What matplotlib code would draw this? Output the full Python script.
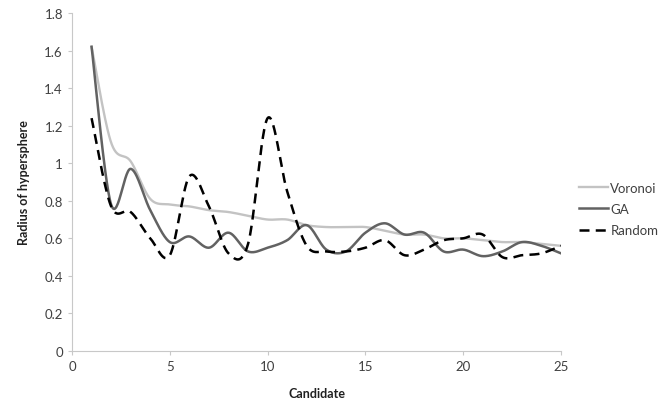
import numpy as np
import matplotlib
matplotlib.use("Agg")
import matplotlib.pyplot as plt

candidates = list(range(1, 26))
voronoi = [1.62, 1.11, 1.01, 0.81, 0.78, 0.77, 0.75, 0.74, 0.72, 0.70, 0.70, 0.67, 0.66,
           0.66, 0.66, 0.64, 0.62, 0.62, 0.60, 0.60, 0.59, 0.58, 0.58, 0.57, 0.56]
ga = [1.62, 0.78, 0.97, 0.75, 0.58, 0.61, 0.55, 0.63, 0.53, 0.55, 0.59, 0.67, 0.54,
      0.53, 0.63, 0.68, 0.62, 0.63, 0.53, 0.54, 0.505, 0.53, 0.58, 0.56, 0.52]
random_ = [1.24, 0.77, 0.74, 0.60, 0.51, 0.93, 0.77, 0.52, 0.57, 1.24, 0.85, 0.56, 0.53,
           0.53, 0.55, 0.59, 0.51, 0.54, 0.59, 0.60, 0.62, 0.50, 0.51, 0.52, 0.56]


def smooth(xs, ys, n=30):
    # Excel-like smoothed line (Catmull-Rom through bezier control points)
    xs = np.asarray(xs, float)
    ys = np.asarray(ys, float)
    px = np.concatenate([[xs[0]], xs, [xs[-1]]])
    py = np.concatenate([[ys[0]], ys, [ys[-1]]])
    outx, outy = [], []
    t = np.linspace(0, 1, n)
    for i in range(1, len(px) - 2):
        p0 = np.array([px[i], py[i]])
        p3 = np.array([px[i + 1], py[i + 1]])
        p1 = p0 + (np.array([px[i + 1], py[i + 1]]) - np.array([px[i - 1], py[i - 1]])) / 6
        p2 = p3 - (np.array([px[i + 2], py[i + 2]]) - np.array([px[i], py[i]])) / 6
        b = ((1 - t) ** 3)[:, None] * p0 + (3 * (1 - t) ** 2 * t)[:, None] * p1 \
            + (3 * (1 - t) * t ** 2)[:, None] * p2 + (t ** 3)[:, None] * p3
        outx.extend(b[:, 0])
        outy.extend(b[:, 1])
    return outx, outy


plt.rcParams['font.family'] = ['Lato', 'DejaVu Sans']

fig = plt.figure(figsize=(6.63, 4.02), dpi=100)
ax = fig.add_axes([0.1086, 0.1244, 0.7376, 0.8408])

x, y = smooth(candidates, voronoi)
ax.plot(x, y, color="#c3c3c3", lw=1.7, label="Voronoi")
x, y = smooth(candidates, ga)
ax.plot(x, y, color="#626262", lw=1.8, label="GA")
x, y = smooth(candidates, random_)
ax.plot(x, y, color="black", lw=1.8, ls=(0, (4, 2.5)), label="Random")

ax.set_xlim(0, 25)
ax.set_ylim(0, 1.8)
ax.set_xticks([0, 5, 10, 15, 20, 25])
ax.set_yticks(np.arange(0, 1.81, 0.2))
ax.set_yticklabels(["0", "0.2", "0.4", "0.6", "0.8", "1", "1.2", "1.4", "1.6", "1.8"])
for s in ["top", "right"]:
    ax.spines[s].set_visible(False)
for s in ["left", "bottom"]:
    ax.spines[s].set_color("#c8c8c8")
ax.tick_params(colors="#c8c8c8", labelcolor="#404040", labelsize=9.5, length=3)
ax.set_xlabel("Candidate", fontsize=9, fontweight="bold", labelpad=11, color="#202020")
ax.set_ylabel("Radius of hypersphere", fontsize=9, fontweight="bold", labelpad=10, color="#202020")

fig.legend(loc="upper left", bbox_to_anchor=(0.855, 0.575), frameon=False, fontsize=9.5,
           handlelength=2.2, handletextpad=0.2, labelspacing=0.7, labelcolor="#404040")

fig.savefig("out.png", dpi=100)
